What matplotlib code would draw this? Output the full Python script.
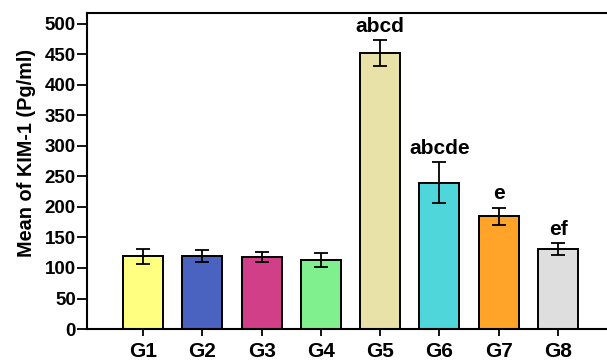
import matplotlib

matplotlib.use("Agg")
import matplotlib.pyplot as plt

groups = ["G1", "G2", "G3", "G4", "G5", "G6", "G7", "G8"]
means = [119, 120, 118, 113, 452, 240, 185, 131]
errors = [12.5, 10, 8.5, 12, 21.5, 34, 14, 9.5]
letters = ["", "", "", "", "abcd", "abcde", "e", "ef"]
colors = ["#FFFF80", "#4A62C0", "#D03F88", "#80F08E", "#E8E2A8", "#4FD6DA", "#FFA428", "#DEDEDE"]
y_ticks = list(range(0, 501, 50))

plt.rcParams["font.family"] = ["Liberation Sans", "DejaVu Sans"]

fig = plt.figure(figsize=(6.07, 3.6), dpi=100)
ax = fig.add_axes([0.1433, 0.0861, 0.8567, 0.8778])

x = list(range(len(groups)))
ax.bar(x, means, width=0.675, color=colors, edgecolor="black", linewidth=1.4, zorder=2)
ax.errorbar(x, means, yerr=errors, fmt="none", ecolor="black", elinewidth=1.3,
            capsize=5, capthick=1.3, zorder=3)

for xi, m, e, lab in zip(x, means, errors, letters):
    if lab:
        ax.annotate(lab, (xi, m + e), xytext=(0, 3), textcoords="offset points",
                    ha="center", va="bottom", fontsize=15, fontweight="bold")

ax.set_xlim(-0.944, 7.825)
ax.set_ylim(0, 518)
ax.set_xticks(x)
ax.set_xticklabels(groups, fontsize=15, fontweight="bold")
ax.set_yticks(y_ticks)
ax.set_yticklabels([str(v) for v in y_ticks], fontsize=13.5, fontweight="bold")
ax.set_ylabel("Mean of KIM-1 (Pg/ml)", fontsize=14.3, fontweight="bold")
ax.yaxis.set_label_coords(-0.098, 0.5585)

for side in ("left", "bottom", "top"):
    ax.spines[side].set_linewidth(1.5)
ax.spines["right"].set_visible(False)
ax.tick_params(axis="y", direction="out", length=7, width=1.3, pad=1)
ax.tick_params(axis="x", direction="out", length=5, width=1.3, pad=4)

fig.savefig("out.png", dpi=100)
